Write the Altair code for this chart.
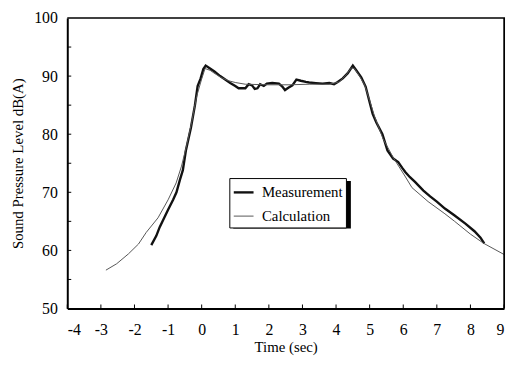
import altair as alt
import pandas as pd

meas_t = [-1.50, -1.35, -1.25, -1.10, -1.00, -0.85, -0.75, -0.65, -0.56, -0.47, -0.32, -0.20, -0.12, -0.03,
          0.05, 0.12, 0.25, 0.38, 0.55, 0.70, 0.85, 1.00, 1.10, 1.30, 1.40, 1.50, 1.58, 1.66, 1.74, 1.85,
          1.94, 2.10, 2.30, 2.40, 2.48, 2.58, 2.70, 2.82, 2.95, 3.10, 3.20, 3.40, 3.60, 3.80, 3.94, 4.05,
          4.20, 4.35, 4.50, 4.60, 4.75, 4.88, 5.00, 5.09, 5.20, 5.38, 5.53, 5.70, 5.85, 5.97, 6.06, 6.20,
          6.35, 6.60, 6.80, 7.00, 7.24, 7.53, 7.85, 8.12, 8.30, 8.41]
meas_L = [60.9, 62.5, 64.0, 65.8, 67.0, 68.7, 70.0, 72.1, 73.8, 77.2, 81.1, 85.0, 88.3, 89.6,
          91.2, 91.8, 91.3, 90.8, 90.0, 89.4, 88.8, 88.3, 87.9, 87.9, 88.6, 88.4, 87.8, 87.9, 88.6, 88.3,
          88.7, 88.8, 88.7, 88.2, 87.6, 88.0, 88.4, 89.4, 89.2, 89.0, 88.9, 88.8, 88.7, 88.8, 88.6, 89.0,
          89.6, 90.5, 91.8, 91.0, 89.8, 88.2, 85.5, 83.5, 82.0, 80.0, 77.2, 75.8, 75.2, 74.2, 73.5, 72.6,
          71.8, 70.3, 69.3, 68.4, 67.2, 66.0, 64.6, 63.3, 62.2, 61.2]

calc_t = [-2.85, -2.53, -2.18, -1.88, -1.65, -1.30, -1.00, -0.76, -0.60, -0.45, -0.30, -0.15, 0.00, 0.10,
          0.25, 0.40, 0.60, 0.80, 1.00, 1.30, 2.00, 2.60, 3.20, 3.80, 4.10, 4.30, 4.45, 4.55, 4.70, 4.85,
          5.00, 5.15, 5.40, 5.70, 6.05, 6.26, 6.74, 7.24, 7.53, 8.00, 8.40, 9.00]
calc_L = [56.6, 57.7, 59.4, 61.1, 63.1, 65.6, 68.7, 71.6, 74.5, 78.0, 82.0, 86.5, 89.5, 91.3,
          91.0, 90.4, 89.7, 89.2, 88.9, 88.6, 88.5, 88.5, 88.6, 88.6, 89.0, 90.2, 91.4, 91.3, 90.0, 88.5,
          85.8, 83.0, 79.2, 76.0, 72.8, 70.8, 68.4, 66.3, 65.0, 62.8, 61.2, 59.3]

x_ticks = list(range(-4, 10))
y_ticks = [50, 60, 70, 80, 90, 100]
y_minor = [55, 60, 65, 70, 75, 80, 85, 90, 95]

df = pd.concat([
    pd.DataFrame({"t": meas_t, "L": meas_L, "series": "Measurement"}),
    pd.DataFrame({"t": calc_t, "L": calc_L, "series": "Calculation"}),
])

FONT = "Liberation Serif"
W, H = 442, 294

xscale = alt.Scale(domain=[-4, 9], nice=False)
yscale = alt.Scale(domain=[50, 100], nice=False, zero=False)

label_expr = "datum.value < 0 ? '-' + abs(datum.value) : '' + datum.value"
x_axis = alt.Axis(values=x_ticks, title="Time (sec)", grid=False, ticks=False,
                  domain=True, domainWidth=2, domainColor="black", labelOverlap=False,
                  labelPadding=13, titlePadding=3, labelExpr=label_expr)
y_axis = alt.Axis(values=y_ticks, title="Sound Pressure Level dB(A)", grid=False,
                  ticks=False, domain=True, domainWidth=2, domainColor="black",
                  labelOverlap=False, labelPadding=10, titlePadding=8)

one = pd.DataFrame({"a": [0]})

lines = alt.Chart(df).mark_line().encode(
    x=alt.X("t:Q", scale=xscale, axis=x_axis),
    y=alt.Y("L:Q", scale=yscale, axis=y_axis),
    color=alt.Color("series:N",
                    scale=alt.Scale(domain=["Measurement", "Calculation"], range=["#111111", "#555555"]),
                    legend=alt.Legend(title=None, orient="none", legendX=164, legendY=162,
                                      symbolType="stroke", symbolSize=400,
                                      symbolStrokeWidth=2, fillColor="white", strokeColor="black",
                                      padding=3, rowPadding=5, labelFontSize=15, labelFont=FONT,
                                      labelColor="black", labelOffset=7)),
    strokeWidth=alt.StrokeWidth("series:N",
                                scale=alt.Scale(domain=["Measurement", "Calculation"], range=[2.4, 1.0]),
                                legend=None),
    detail="series:N",
)

shadow = alt.Chart(one).mark_rect(color="black").encode(
    x=alt.value(168), x2=alt.value(287),
    y=alt.value(165), y2=alt.value(213),
)

top_edge = alt.Chart(one).mark_rect(color="black").encode(
    x=alt.value(0), x2=alt.value(W + 1), y=alt.value(-0.75), y2=alt.value(0.75),
)
right_edge = alt.Chart(one).mark_rect(color="black").encode(
    x=alt.value(W - 0.75), x2=alt.value(W + 1), y=alt.value(0), y2=alt.value(H),
)

xt = alt.Chart(pd.DataFrame({"t": x_ticks})).mark_rect(color="black", width=1).encode(
    x=alt.X("t:Q", scale=xscale, axis=x_axis),
    y=alt.value(H - 4), y2=alt.value(H),
)
yt = alt.Chart(pd.DataFrame({"L": y_minor})).mark_rect(color="black", height=1).encode(
    y=alt.Y("L:Q", scale=yscale, axis=y_axis),
    x=alt.value(0), x2=alt.value(4),
)

chart = alt.layer(lines, shadow, top_edge, right_edge, xt, yt).properties(
    width=W, height=H,
    autosize=alt.AutoSizeParams(type="none"),
    padding={"left": 60, "top": 8, "right": 2, "bottom": 49},
).configure(background="white").configure_view(stroke=None).configure_axis(
    labelFont=FONT, titleFont=FONT, labelFontSize=16, titleFontSize=15,
    labelColor="black", titleColor="black", titleFontWeight="normal",
)

chart.save("out.html", embed_options={"renderer": "svg", "actions": False})
